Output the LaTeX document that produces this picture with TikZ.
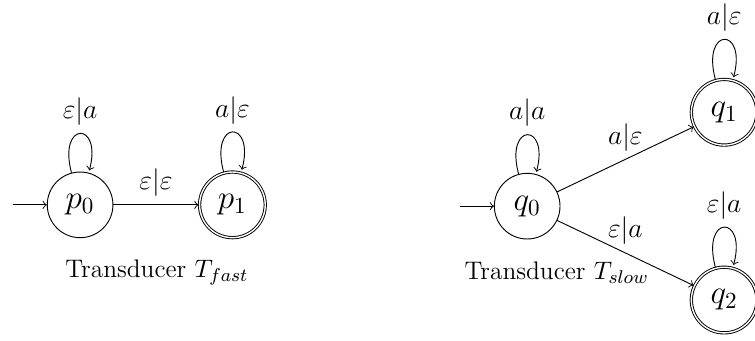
\documentclass[tikz,border=0pt]{standalone}
\usepackage{amsmath,amssymb}
\usetikzlibrary{automata,positioning}

\begin{document}
\begin{tikzpicture}[->, node distance=2.3cm, on grid,
  st/.style={state, minimum size=1cm, inner sep=1pt, font=\fontsize{14}{16}\selectfont},
  fin/.style={st, accepting},
  start/.style={initial, initial text={}, initial distance=0.52cm},
  lbl/.style={above, font=\fontsize{12.6}{14}\selectfont},
  caption/.style={anchor=center, font=\fontsize{11}{13}\selectfont}]
\useasboundingbox (0,0) rectangle (11.5,-5.179);
% fast
\node[st, start] (p0) at (1.22,-3.12) {$p_0$};
\node[fin, right=2.32cm of p0] (p1) {$p_1$};
\node[caption] (capfast) at (2.39,-4.15) {Transducer $T_{fast}$};
\draw (p0) edge[loop above] node[lbl] {$\varepsilon|a$} (p0)
      (p0) edge node[lbl] {$\varepsilon|\varepsilon$} (p1)
      (p1) edge[loop above] node[lbl] {$a|\varepsilon$} (p1);
% slow
\node[st, start] (q0) at (8.03,-3.14) {$q_0$};
\node[fin, above right=1.43cm and 3cm of q0] (q1) {$q_1$};
\node[fin, below right=1.43cm and 3cm of q0] (q2) {$q_2$};
\node[caption] (capslow) at (8.48,-4.15) {Transducer $T_{slow}$};
\draw (q0) edge[loop above] node[lbl] {$a|a$} (q0)
      (q0) edge node[lbl] {$a|\varepsilon$} (q1)
      (q0) edge node[lbl] {$\varepsilon|a$} (q2)
      (q1) edge[loop above] node[lbl] {$a|\varepsilon$} (q1)
      (q2) edge[loop above] node[lbl] {$\varepsilon|a$} (q2);
\end{tikzpicture}
\end{document}
